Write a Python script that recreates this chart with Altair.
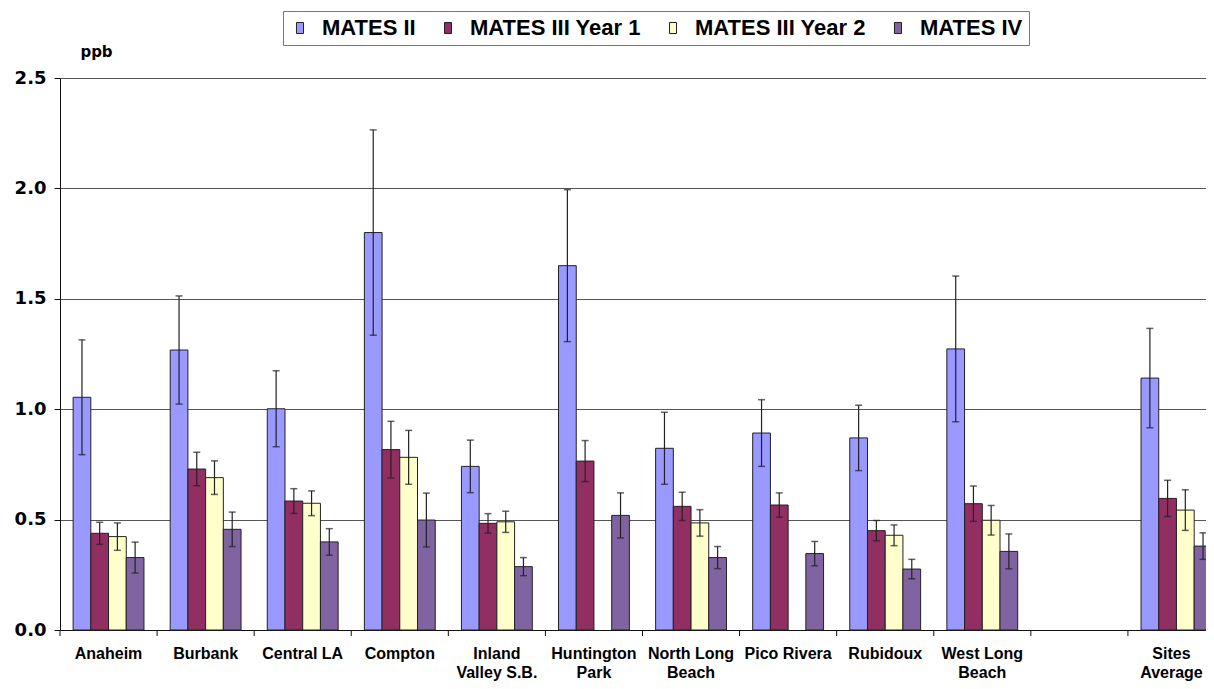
import altair as alt
import pandas as pd

sites = ["Anaheim", "Burbank", "Central LA", "Compton", "Inland|Valley S.B.",
         "Huntington|Park", "North Long|Beach", "Pico Rivera", "Rubidoux",
         "West Long|Beach", " ", "Sites|Average"]
series = ["MATES II", "MATES III Year 1", "MATES III Year 2", "MATES IV"]
colors = ["#9999FF", "#912E62", "#FFFFCC", "#8064A2"]

m2 = [1.054, 1.268, 1.002, 1.80, 0.741, 1.65, 0.823, 0.892, 0.87, 1.273, None, 1.141]
m2_err = [0.26, 0.245, 0.172, 0.465, 0.119, 0.344, 0.163, 0.151, 0.148, 0.33, None, 0.225]
m3y1 = [0.438, 0.729, 0.584, 0.817, 0.483, 0.765, 0.56, 0.566, 0.45, 0.572, None, 0.596]
m3y1_err = [0.05, 0.076, 0.056, 0.128, 0.044, 0.093, 0.064, 0.055, 0.046, 0.08, None, 0.082]
m3y2 = [0.423, 0.69, 0.574, 0.782, 0.49, None, 0.485, None, 0.429, 0.497, None, 0.543]
m3y2_err = [0.062, 0.076, 0.056, 0.122, 0.048, None, 0.06, None, 0.047, 0.067, None, 0.092]
m4 = [0.328, 0.456, 0.399, 0.498, 0.287, 0.519, 0.328, 0.346, 0.276, 0.356, None, 0.38]
m4_err = [0.07, 0.078, 0.06, 0.122, 0.041, 0.102, 0.05, 0.055, 0.044, 0.079, None, 0.06]

y_ticks = [0.0, 0.5, 1.0, 1.5, 2.0, 2.5]

rows = []
for name, vals, errs in zip(series, [m2, m3y1, m3y2, m4], [m2_err, m3y1_err, m3y2_err, m4_err]):
    for s, v, e in zip(sites, vals, errs):
        if v is None:
            continue
        rows.append({"site": s, "series": name, "value": v, "lo": v - e, "hi": v + e})
df = pd.DataFrame(rows)
sites_df = pd.DataFrame({"site": sites})

# plot is wider than the visible page: last group is cut at the right edge, as in the original
x_scale = alt.Scale(domain=sites, paddingInner=0, paddingOuter=0, range=[0, 1165])
x_enc = alt.X("site:N", scale=x_scale, sort=sites, axis=alt.Axis(
    labelExpr="split(datum.value, '|')", ticks=False, domain=True, domainColor="#111",
    domainWidth=1, labelFont="Liberation Sans", labelFontSize=16, labelFontWeight="bold",
    labelColor="#000", labelPadding=15, labelLineHeight=19, labelAngle=0, labelLimit=0,
    labelOffset={"condition": {"test": "datum.value == 'Sites|Average'", "value": -5},
                 "value": 0},
    labelBaseline="top", title=None, grid=False))
xo_enc = alt.XOffset("series:N", sort=series,
                     scale=alt.Scale(domain=series, paddingInner=0, paddingOuter=0.74))
y_scale = alt.Scale(domain=[0, 2.5], nice=False, zero=True)
y_axis = alt.Axis(values=y_ticks, format=".1f", grid=True, gridColor="#555", gridWidth=1,
                  tickSize=6, tickColor="#111", domainColor="#111", labelFont="DejaVu Sans",
                  labelFontWeight="bold", labelFontSize=18, labelColor="#000", labelPadding=8,
                  title="ppb", titleAngle=0, titleX=36, titleY=-27, titleAlign="center",
                  titleBaseline="middle", titleFont="DejaVu Sans", titleFontSize=15,
                  titleFontWeight="bold", titleColor="#000")

bars = alt.Chart(df).mark_bar(stroke="#222", strokeWidth=1).encode(
    x=x_enc,
    xOffset=xo_enc,
    y=alt.Y("value:Q", scale=y_scale, axis=y_axis),
    color=alt.Color("series:N", sort=series, scale=alt.Scale(domain=series, range=colors),
                    legend=alt.Legend(orient="none", legendX=223, legendY=-67,
                                      direction="horizontal", columns=4, title=None,
                                      symbolType="M-0.64,-1H0.64V1H-0.64Z", symbolSize=121,
                                      symbolStrokeColor="#222", symbolStrokeWidth=1,
                                      labelFont="Liberation Sans", labelFontWeight="bold",
                                      labelFontSize=22, labelColor="#000", labelOffset=11,
                                      labelLimit=0, columnPadding=21, strokeColor="#777",
                                      fillColor="white", padding=6)),
)

err = alt.Chart(df).mark_rule(color="#222", strokeWidth=1.2).encode(
    x=alt.X("site:N", scale=x_scale, sort=sites),
    xOffset=xo_enc,
    y=alt.Y("lo:Q", scale=y_scale),
    y2="hi:Q",
)
cap_hi = alt.Chart(df).mark_tick(color="#222", size=7, thickness=1.5).encode(
    x=alt.X("site:N", scale=x_scale, sort=sites),
    xOffset=xo_enc,
    y=alt.Y("hi:Q", scale=y_scale),
)
cap_lo = alt.Chart(df).mark_tick(color="#222", size=7, thickness=1.5).encode(
    x=alt.X("site:N", scale=x_scale, sort=sites),
    xOffset=xo_enc,
    y=alt.Y("lo:Q", scale=y_scale),
)
xticks = alt.Chart(sites_df).mark_rule(color="#111", strokeWidth=1).encode(
    x=alt.X("site:N", scale=x_scale, sort=sites, bandPosition=0),
    y=alt.value(552),
    y2=alt.value(558),
)

chart = alt.layer(bars, err, cap_hi, cap_lo, xticks).properties(
    width=1146, height=552,
    autosize=alt.AutoSizeParams(type="none"),
    padding={"left": 52, "top": 70, "right": 0, "bottom": 51},
    background="white",
).configure_view(stroke=None)

chart.save("out.html", embed_options={"renderer": "svg", "actions": False})
